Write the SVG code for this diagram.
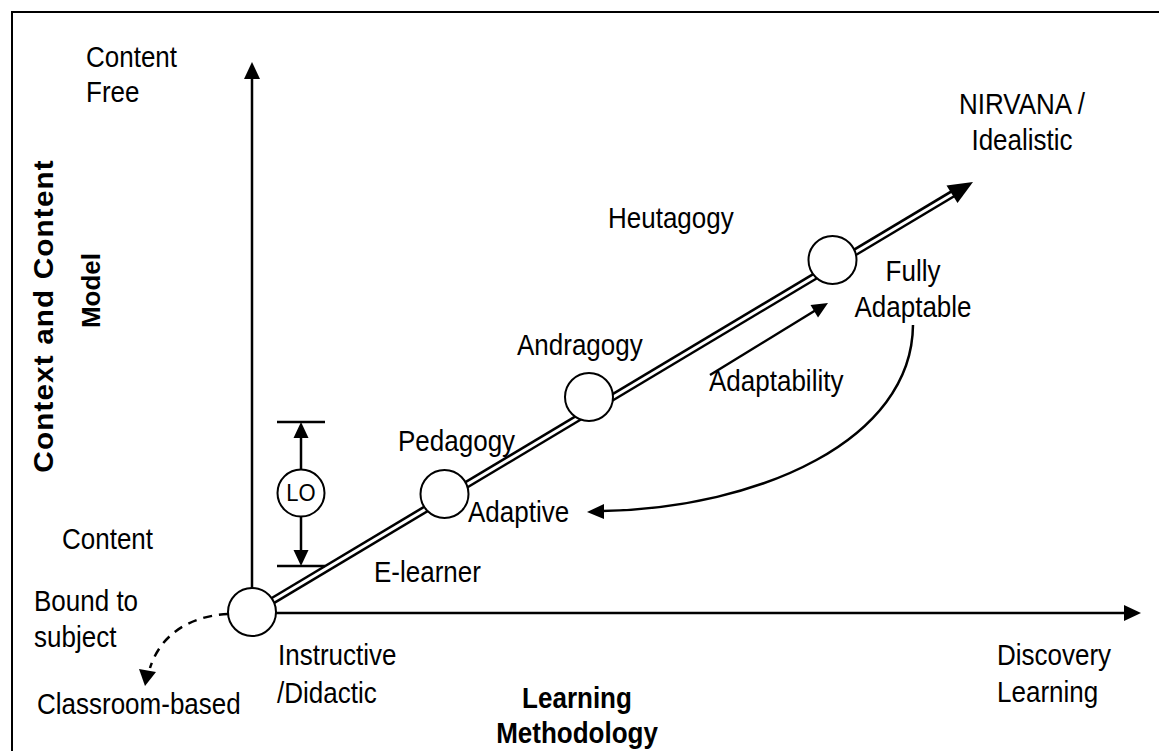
<svg xmlns="http://www.w3.org/2000/svg" width="1159" height="751" viewBox="0 0 1159 751">
<defs>
<style>
text{font-family:"Liberation Sans",Arial,sans-serif;font-size:26px;fill:#000}
.b{font-weight:bold}
.m{text-anchor:middle}
.ln{stroke:#000;stroke-width:2.5;fill:none}
.node{fill:#fff;stroke:#000;stroke-width:2}
.ah{fill:#000}
</style>
</defs>
<rect width="1159" height="751" fill="#fff"/>
<rect x="12" y="12" width="1170" height="770" fill="none" stroke="#000" stroke-width="2"/>

<g id="connectors">
  <!-- vertical axis -->
  <line class="ln" x1="252" y1="590" x2="252" y2="76"/>
  <polygon class="ah" points="252,62 244,79 260,79"/>
  <!-- horizontal axis -->
  <line class="ln" x1="276" y1="613" x2="1126" y2="613"/>
  <polygon class="ah" points="1141,613 1124,605 1124,621"/>
  <!-- double line main progression -->
  <line x1="252" y1="613" x2="954" y2="193" stroke="#000" stroke-width="8"/>
  <line x1="252" y1="613" x2="956" y2="192" stroke="#fff" stroke-width="3"/>
  <polygon class="ah" points="973,182 957.5,203 946.5,185.5"/>
  <!-- LO ticks and arrows -->
  <line class="ln" x1="277" y1="422" x2="325" y2="422"/>
  <line class="ln" x1="277" y1="566" x2="325" y2="566"/>
  <line class="ln" x1="301" y1="469" x2="301" y2="435"/>
  <polygon class="ah" points="301,422 293.5,438 308.5,438"/>
  <line class="ln" x1="301" y1="517" x2="301" y2="552"/>
  <polygon class="ah" points="301,566 293.5,550 308.5,550"/>
  <!-- adaptability arrow -->
  <line class="ln" x1="710" y1="375" x2="816" y2="310"/>
  <polygon class="ah" points="828,303 818,317.5 810.5,305"/>
  <!-- curved arrow from fully adaptable to adaptive -->
  <path class="ln" d="M913,325 C912,440 760,508 602,511"/>
  <polygon class="ah" points="587,512 604,504 604,519"/>
  <!-- dashed arrow to classroom-based -->
  <path class="ln" d="M228,614 C188,616 160,636 150,668" stroke-dasharray="9,7"/>
  <polygon class="ah" points="145,686 139,669 156,672"/>
</g>

<g id="node-origin"><circle class="node" cx="252" cy="612" r="24"/></g>
<g id="node-pedagogy"><circle class="node" cx="444.5" cy="494" r="24"/></g>
<g id="node-andragogy"><circle class="node" cx="589" cy="397" r="24"/></g>
<g id="node-fully-adaptable"><circle class="node" cx="832.5" cy="260" r="24"/></g>
<g id="node-lo"><circle class="node" cx="301" cy="493" r="23.5"/>
  <text class="m" style="font-size:22px" transform="matrix(1 0 0 1.05 301 501)">LO</text></g>

<g id="labels">
  <text transform="matrix(1 0 0 1.1 86 67)">Content</text>
  <text transform="matrix(1 0 0 1.1 86 102)">Free</text>
  <text transform="matrix(1 0 0 1.1 62 549)">Content</text>
  <text transform="matrix(1 0 0 1.1 34 611)">Bound to</text>
  <text transform="matrix(1 0 0 1.1 34 647)">subject</text>
  <text transform="matrix(1 0 0 1.1 37 714)">Classroom-based</text>
  <text transform="matrix(1 0 0 1.1 278 665)">Instructive</text>
  <text transform="matrix(1 0 0 1.1 277 703)">/Didactic</text>
  <text transform="matrix(1 0 0 1.1 997 665)">Discovery</text>
  <text transform="matrix(1 0 0 1.1 997 702)">Learning</text>
  <text class="m" transform="matrix(1 0 0 1.1 1022 114)">NIRVANA /</text>
  <text class="m" transform="matrix(1 0 0 1.1 1022 150)">Idealistic</text>
  <text class="m" transform="matrix(1 0 0 1.1 913 281)">Fully</text>
  <text class="m" transform="matrix(1 0 0 1.1 913 317)">Adaptable</text>
  <text transform="matrix(1 0 0 1.1 709 391)">Adaptability</text>
  <text transform="matrix(1 0 0 1.1 608 228)">Heutagogy</text>
  <text transform="matrix(1 0 0 1.1 517 355)">Andragogy</text>
  <text transform="matrix(1 0 0 1.1 398 451)">Pedagogy</text>
  <text transform="matrix(1 0 0 1.1 468 522)">Adaptive</text>
  <text transform="matrix(1 0 0 1.1 374 582)">E-learner</text>
  <text class="b m" transform="matrix(1 0 0 1.1 577 708)">Learning</text>
  <text class="b m" transform="matrix(1 0 0 1.1 577 743)">Methodology</text>
  <text class="b m" style="font-size:27px" transform="translate(53 316.5) rotate(-90) scale(1.1 1)" textLength="284" lengthAdjust="spacing">Context and Content</text>
  <text class="b m" transform="translate(100 290.5) rotate(-90)">Model</text>
</g>
</svg>
